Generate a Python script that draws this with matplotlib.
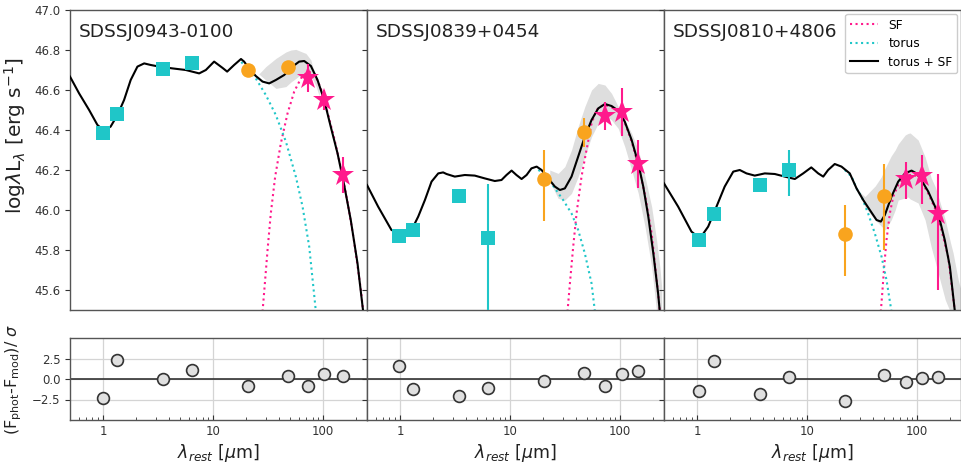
import numpy as np
import matplotlib
matplotlib.use('Agg')
import matplotlib.pyplot as plt
from matplotlib.ticker import FixedLocator, FuncFormatter, LogLocator, NullFormatter

# ========================
# Data
# ========================

names = ['SDSSJ0943-0100', 'SDSSJ0839+0454', 'SDSSJ0810+4806']

# --- photometry: squares (near-IR), circles (mid-IR), stars (far-IR)
p1_sq_x = [1.0, 1.34, 3.5, 6.45]
p1_sq_y = [46.385, 46.48, 46.705, 46.735]
p1_sq_lo = [0.01, 0.01, 0.01, 0.01]
p1_sq_hi = [0.01, 0.01, 0.01, 0.01]
p1_ci_x = [20.8, 48.0]
p1_ci_y = [46.70, 46.715]
p1_ci_lo = [0.02, 0.01]
p1_ci_hi = [0.02, 0.01]
p1_st_x = [73.0, 102.0, 150.0]
p1_st_y = [46.66, 46.55, 46.175]
p1_st_lo = [0.07, 0.05, 0.09]
p1_st_hi = [0.07, 0.05, 0.09]

p2_sq_x = [0.97, 1.31, 3.44, 6.3]
p2_sq_y = [45.87, 45.90, 46.07, 45.86]
p2_sq_lo = [0.01, 0.01, 0.03, 0.40]
p2_sq_hi = [0.01, 0.01, 0.03, 0.27]
p2_ci_x = [20.2, 46.7]
p2_ci_y = [46.155, 46.39]
p2_ci_lo = [0.21, 0.075]
p2_ci_hi = [0.145, 0.07]
p2_st_x = [72.5, 103.0, 145.0]
p2_st_y = [46.47, 46.49, 46.23]
p2_st_lo = [0.07, 0.12, 0.12]
p2_st_hi = [0.07, 0.12, 0.12]

p3_sq_x = [1.04, 1.43, 3.71, 6.85]
p3_sq_y = [45.85, 45.98, 46.125, 46.20]
p3_sq_lo = [0.01, 0.01, 0.01, 0.13]
p3_sq_hi = [0.01, 0.01, 0.01, 0.10]
p3_ci_x = [22.0, 50.0]
p3_ci_y = [45.88, 46.07]
p3_ci_lo = [0.21, 0.27]
p3_ci_hi = [0.145, 0.16]
p3_st_x = [78.3, 109.6, 156.0]
p3_st_y = [46.155, 46.17, 45.98]
p3_st_lo = [0.10, 0.14, 0.38]
p3_st_hi = [0.085, 0.105, 0.20]

# --- model curves: torus + SF (black)
p1_tot_x = [0.5, 0.605, 0.746, 0.888, 1.02, 1.17, 1.35, 1.55, 1.78, 2.05, 2.36, 2.71, 3.23,
            4.27, 5.64, 7.46, 8.58, 10.2, 12.2, 13.4, 15.5, 17.9, 19.1, 21.2, 24.4, 28.1,
            32.3, 37.1, 44.2, 52.6, 60.5, 67.2, 77.3, 88.8, 102, 117, 135, 155, 178, 205, 231]
p1_tot_y = [46.667, 46.583, 46.50, 46.425, 46.397, 46.417, 46.475, 46.55, 46.65, 46.717,
            46.733, 46.725, 46.717, 46.708, 46.70, 46.683, 46.70, 46.742, 46.71, 46.692,
            46.725, 46.755, 46.742, 46.708, 46.67, 46.642, 46.633, 46.65, 46.675, 46.717,
            46.742, 46.745, 46.72, 46.65, 46.55, 46.417, 46.283, 46.125, 45.95, 45.733, 45.49]

p2_tot_x = [0.5, 0.631, 0.834, 1.03, 1.27, 1.46, 1.68, 1.93, 2.22, 2.46, 2.64, 3.14, 3.87,
            4.77, 5.88, 7.25, 8.34, 9.26, 10.3, 11.4, 12.7, 14.1, 15.6, 17.4, 19.3, 22.2,
            25.5, 28.3, 31.4, 36.1, 41.5, 47.7, 54.9, 63.1, 72.6, 83.4, 95.9, 110, 127,
            146, 162, 180, 200, 221, 229]
p2_tot_y = [46.125, 46.017, 45.90, 45.883, 45.90, 45.967, 46.05, 46.142, 46.183, 46.188,
            46.18, 46.167, 46.175, 46.172, 46.158, 46.145, 46.15, 46.175, 46.197, 46.175,
            46.155, 46.175, 46.208, 46.217, 46.20, 46.158, 46.117, 46.10, 46.108, 46.167,
            46.267, 46.367, 46.45, 46.508, 46.53, 46.52, 46.497, 46.442, 46.35, 46.233,
            46.117, 45.967, 45.783, 45.583, 45.492]

p3_tot_x = [0.5, 0.672, 0.888, 1.06, 1.26, 1.50, 1.78, 2.13, 2.44, 2.81, 3.34, 4.12, 5.08,
            6.27, 7.73, 9.20, 10.9, 12.6, 14.0, 15.5, 17.8, 20.5, 24.4, 28.1, 32.3, 37.1,
            42.7, 46.7, 50.8, 58.4, 67.2, 77.3, 88.8, 98.6, 109, 126, 155, 178, 198, 220]
p3_tot_y = [46.133, 46.017, 45.892, 45.858, 45.917, 46.017, 46.117, 46.192, 46.20, 46.183,
            46.172, 46.183, 46.18, 46.167, 46.155, 46.183, 46.213, 46.183, 46.167, 46.20,
            46.23, 46.217, 46.183, 46.108, 46.05, 46.00, 45.95, 45.942, 45.975, 46.067,
            46.142, 46.183, 46.197, 46.183, 46.15, 46.092, 45.983, 45.85, 45.717, 45.492]

# --- torus component (cyan dotted), only where it departs from the total
p1_tor_x = [18.0, 20.5, 24.4, 30.1, 37.1, 45.8, 56.4, 64.9, 74.6, 85.8]
p1_tor_y = [46.74, 46.708, 46.658, 46.575, 46.475, 46.342, 46.167, 46.017, 45.817, 45.492]
p2_tor_x = [18.0, 20.7, 25.5, 30.3, 36.1, 41.5, 47.7, 54.9, 58.9]
p2_tor_y = [46.20, 46.183, 46.108, 46.05, 45.983, 45.90, 45.783, 45.633, 45.492]
p3_tor_x = [22.0, 25.3, 28.1, 31.2, 35.8, 41.2, 47.4, 52.6, 58.4]
p3_tor_y = [46.20, 46.167, 46.108, 46.067, 45.983, 45.883, 45.767, 45.65, 45.492]

# --- star-forming component (pink dotted)
p1_sf_x = [28.1, 29.5, 31.2, 33.4, 36.6, 41.2, 47.4, 54.5, 62.7, 72.1, 82.8, 95.2, 109,
           126, 145, 166, 191, 220, 231]
p1_sf_y = [45.492, 45.633, 45.80, 45.983, 46.167, 46.333, 46.483, 46.592, 46.658, 46.692,
           46.683, 46.608, 46.492, 46.358, 46.208, 46.042, 45.842, 45.60, 45.49]
p2_sf_x = [33.2, 34.9, 37.4, 40.1, 44.5, 49.4, 54.9, 60.9, 70.0, 83.4, 95.9, 110, 127,
           146, 168, 193, 221, 229]
p2_sf_y = [45.492, 45.633, 45.817, 45.983, 46.167, 46.30, 46.433, 46.50, 46.525, 46.517,
           46.492, 46.437, 46.342, 46.225, 46.075, 45.883, 45.583, 45.492]
p3_sf_x = [46.7, 48.1, 50.1, 52.6, 56.4, 60.5, 67.2, 74.6, 82.8, 95.2, 109, 126, 145,
           166, 191, 220]
p3_sf_y = [45.492, 45.583, 45.717, 45.85, 45.983, 46.067, 46.125, 46.158, 46.175, 46.175,
           46.142, 46.083, 46.008, 45.90, 45.767, 45.492]

# --- uncertainty band (grey)
p1_band_x = [26.0, 30.1, 37.2, 45.8, 50.9, 56.5, 64.4, 69.6, 77.3, 79.4, 85.9, 92.0]
p1_band_lo = [46.68, 46.65, 46.608, 46.617, 46.64, 46.658, 46.683, 46.68, 46.667, 46.66, 46.62, 46.57]
p1_band_hi = [46.68, 46.717, 46.758, 46.79, 46.80, 46.803, 46.79, 46.783, 46.75, 46.725, 46.667, 46.60]

p2_band_x = [22.9, 27.3, 31.4, 36.1, 41.5, 47.7, 54.9, 63.1, 72.6, 83.4, 95.9, 110, 127,
             146, 168, 193, 214, 229, 238]
p2_band_lo = [46.142, 46.058, 46.05, 46.083, 46.167, 46.267, 46.367, 46.433, 46.475, 46.45,
              46.408, 46.317, 46.20, 46.083, 45.917, 45.717, 45.492, 45.40, 45.40]
p2_band_hi = [46.20, 46.183, 46.217, 46.30, 46.417, 46.517, 46.60, 46.633, 46.625, 46.583,
              46.517, 46.45, 46.383, 46.30, 46.167, 46.017, 45.85, 45.717, 45.617]

p3_band_x = [30.0, 33.5, 41.5, 47.1, 51.2, 58.0, 63.1, 67.2, 77.8, 82.8, 86.3, 102, 118,
             134, 146, 155, 180, 200, 212, 236, 250]
p3_band_lo = [46.09, 46.015, 45.95, 45.92, 45.90, 45.95, 46.0, 46.05, 46.06, 46.065, 46.055,
              46.035, 45.95, 45.815, 45.74, 45.685, 45.55, 45.49, 45.40, 45.40, 45.40]
p3_band_hi = [46.09, 46.067, 46.12, 46.165, 46.21, 46.27, 46.30, 46.33, 46.375, 46.383,
              46.385, 46.35, 46.265, 46.16, 46.115, 46.07, 45.95, 45.84, 45.785, 45.65, 45.60]

# --- residuals (F_phot - F_mod) / sigma, same order as photometry
p1_res = [-2.35, 2.26, 0.0, 1.15, -0.83, 0.36, -0.91, 0.55, 0.36]
p2_res = [1.55, -1.19, -2.02, -1.1, -0.24, 0.75, -0.91, 0.6, 0.95]
p3_res = [-1.5, 2.14, -1.79, 0.27, -2.74, 0.44, -0.32, 0.08, 0.27]

y_ticks = [45.6, 45.8, 46.0, 46.2, 46.4, 46.6, 46.8, 47.0]
res_ticks = [-2.5, 0.0, 2.5]
x_ticks = [1, 10, 100]

# ========================
# Grouping per panel
# ========================
panels = [
    dict(sq=(p1_sq_x, p1_sq_y, p1_sq_lo, p1_sq_hi), ci=(p1_ci_x, p1_ci_y, p1_ci_lo, p1_ci_hi),
         st=(p1_st_x, p1_st_y, p1_st_lo, p1_st_hi), tot=(p1_tot_x, p1_tot_y),
         tor=(p1_tor_x, p1_tor_y), sf=(p1_sf_x, p1_sf_y),
         band=(p1_band_x, p1_band_lo, p1_band_hi), res=p1_res),
    dict(sq=(p2_sq_x, p2_sq_y, p2_sq_lo, p2_sq_hi), ci=(p2_ci_x, p2_ci_y, p2_ci_lo, p2_ci_hi),
         st=(p2_st_x, p2_st_y, p2_st_lo, p2_st_hi), tot=(p2_tot_x, p2_tot_y),
         tor=(p2_tor_x, p2_tor_y), sf=(p2_sf_x, p2_sf_y),
         band=(p2_band_x, p2_band_lo, p2_band_hi), res=p2_res),
    dict(sq=(p3_sq_x, p3_sq_y, p3_sq_lo, p3_sq_hi), ci=(p3_ci_x, p3_ci_y, p3_ci_lo, p3_ci_hi),
         st=(p3_st_x, p3_st_y, p3_st_lo, p3_st_hi), tot=(p3_tot_x, p3_tot_y),
         tor=(p3_tor_x, p3_tor_y), sf=(p3_sf_x, p3_sf_y),
         band=(p3_band_x, p3_band_lo, p3_band_hi), res=p3_res),
]

c_cyan = '#1fc6c8'
c_orange = '#f9a41e'
c_pink = '#ff1a8c'
spine_col = '#555555'

# ========================
# Figure
# ========================
W, H = 961, 468
fig = plt.figure(figsize=(W / 100, H / 100), dpi=100)

lefts = [70, 367, 664]
pw = 297

for i, p in enumerate(panels):
    ax = fig.add_axes([lefts[i] / W, 1 - 310 / H, pw / W, 300 / H])
    rx = fig.add_axes([lefts[i] / W, 1 - 420 / H, pw / W, 82 / H])

    # top: SED
    bx, blo, bhi = p['band']
    ax.fill_between(bx, blo, bhi, color='#dedede', lw=0, zorder=1)
    ax.plot(*p['sf'], ls=':', color=c_pink, lw=1.5, zorder=2, label='SF')
    ax.plot(*p['tor'], ls=':', color=c_cyan, lw=1.5, zorder=2, label='torus')
    ax.plot(*p['tot'], color='black', lw=1.5, zorder=3, label='torus + SF')

    for key, mk, col, ms in [('sq', 's', c_cyan, 10.5), ('ci', 'o', c_orange, 10.5),
                             ('st', '*', c_pink, 17)]:
        x, y, lo, hi = p[key]
        ax.errorbar(x, y, yerr=[lo, hi], fmt=mk, color=col, ms=ms, mec=col, mew=0,
                    elinewidth=1.5, capsize=0, zorder=4)

    ax.set_xscale('log')
    ax.set_xlim(0.5, 250)
    ax.set_ylim(45.5, 47.0)
    ax.yaxis.set_major_locator(FixedLocator(y_ticks))
    ax.yaxis.set_major_formatter(FuncFormatter(lambda v, pos: '%.1f' % v))
    ax.tick_params(axis='y', labelsize=8.5, colors='#333333', length=3.5)
    ax.tick_params(axis='x', which='both', labelbottom=False, length=0)
    ax.text(0.03, 0.958, names[i], transform=ax.transAxes, fontsize=13.3,
            va='top', ha='left', color='#222222')
    if i == 0:
        ax.set_ylabel(r'log$\lambda$L$_\lambda$ [erg s$^{-1}$]', fontsize=14.5, color='#222222')
        ax.yaxis.set_label_coords(-0.143, 0.583)
    else:
        ax.tick_params(axis='y', labelleft=False)
    if i == 2:
        ax.legend(loc='upper right', fontsize=8.8, handlelength=2.3, borderaxespad=0.3,
                  labelspacing=0.45, framealpha=1, edgecolor='#cccccc')

    # bottom: residuals
    sx = p['sq'][0] + p['ci'][0] + p['st'][0]
    rx.axhline(0, color='#333333', lw=1.2, zorder=2)
    rx.plot(sx, p['res'], 'o', ms=8.5, mfc='#e0e0e0', mec='#333333', mew=1.2, zorder=3)
    rx.set_xscale('log')
    rx.set_xlim(0.5, 250)
    rx.set_ylim(-5, 5)
    rx.xaxis.set_major_locator(FixedLocator(x_ticks))
    rx.xaxis.set_major_formatter(FuncFormatter(lambda v, pos: '%d' % v))
    rx.xaxis.set_minor_locator(LogLocator(base=10, subs=np.arange(2, 10)))
    rx.xaxis.set_minor_formatter(NullFormatter())
    rx.yaxis.set_major_locator(FixedLocator(res_ticks))
    rx.grid(True, color='#d4d4d4', lw=0.9, zorder=0)
    rx.set_axisbelow(True)
    rx.tick_params(axis='x', which='both', direction='in', labelsize=8.5, colors='#333333')
    rx.tick_params(axis='x', which='minor', length=2)
    rx.tick_params(axis='y', labelsize=8.5, colors='#333333', length=3.5)
    rx.set_xlabel(r'$\lambda_{rest}$ [$\mu$m]', fontsize=12.5, color='#222222', labelpad=3)
    if i == 0:
        rx.set_ylabel(r'(F$_{\rm phot}$-F$_{\rm mod}$)/ $\sigma$', fontsize=11.5, color='#222222')
        rx.yaxis.set_label_coords(-0.155, 0.5)
    else:
        rx.tick_params(axis='y', labelleft=False)

    for a in (ax, rx):
        for s in a.spines.values():
            s.set_color(spine_col)
            s.set_linewidth(1.0)

fig.savefig('out.png', dpi=100)
